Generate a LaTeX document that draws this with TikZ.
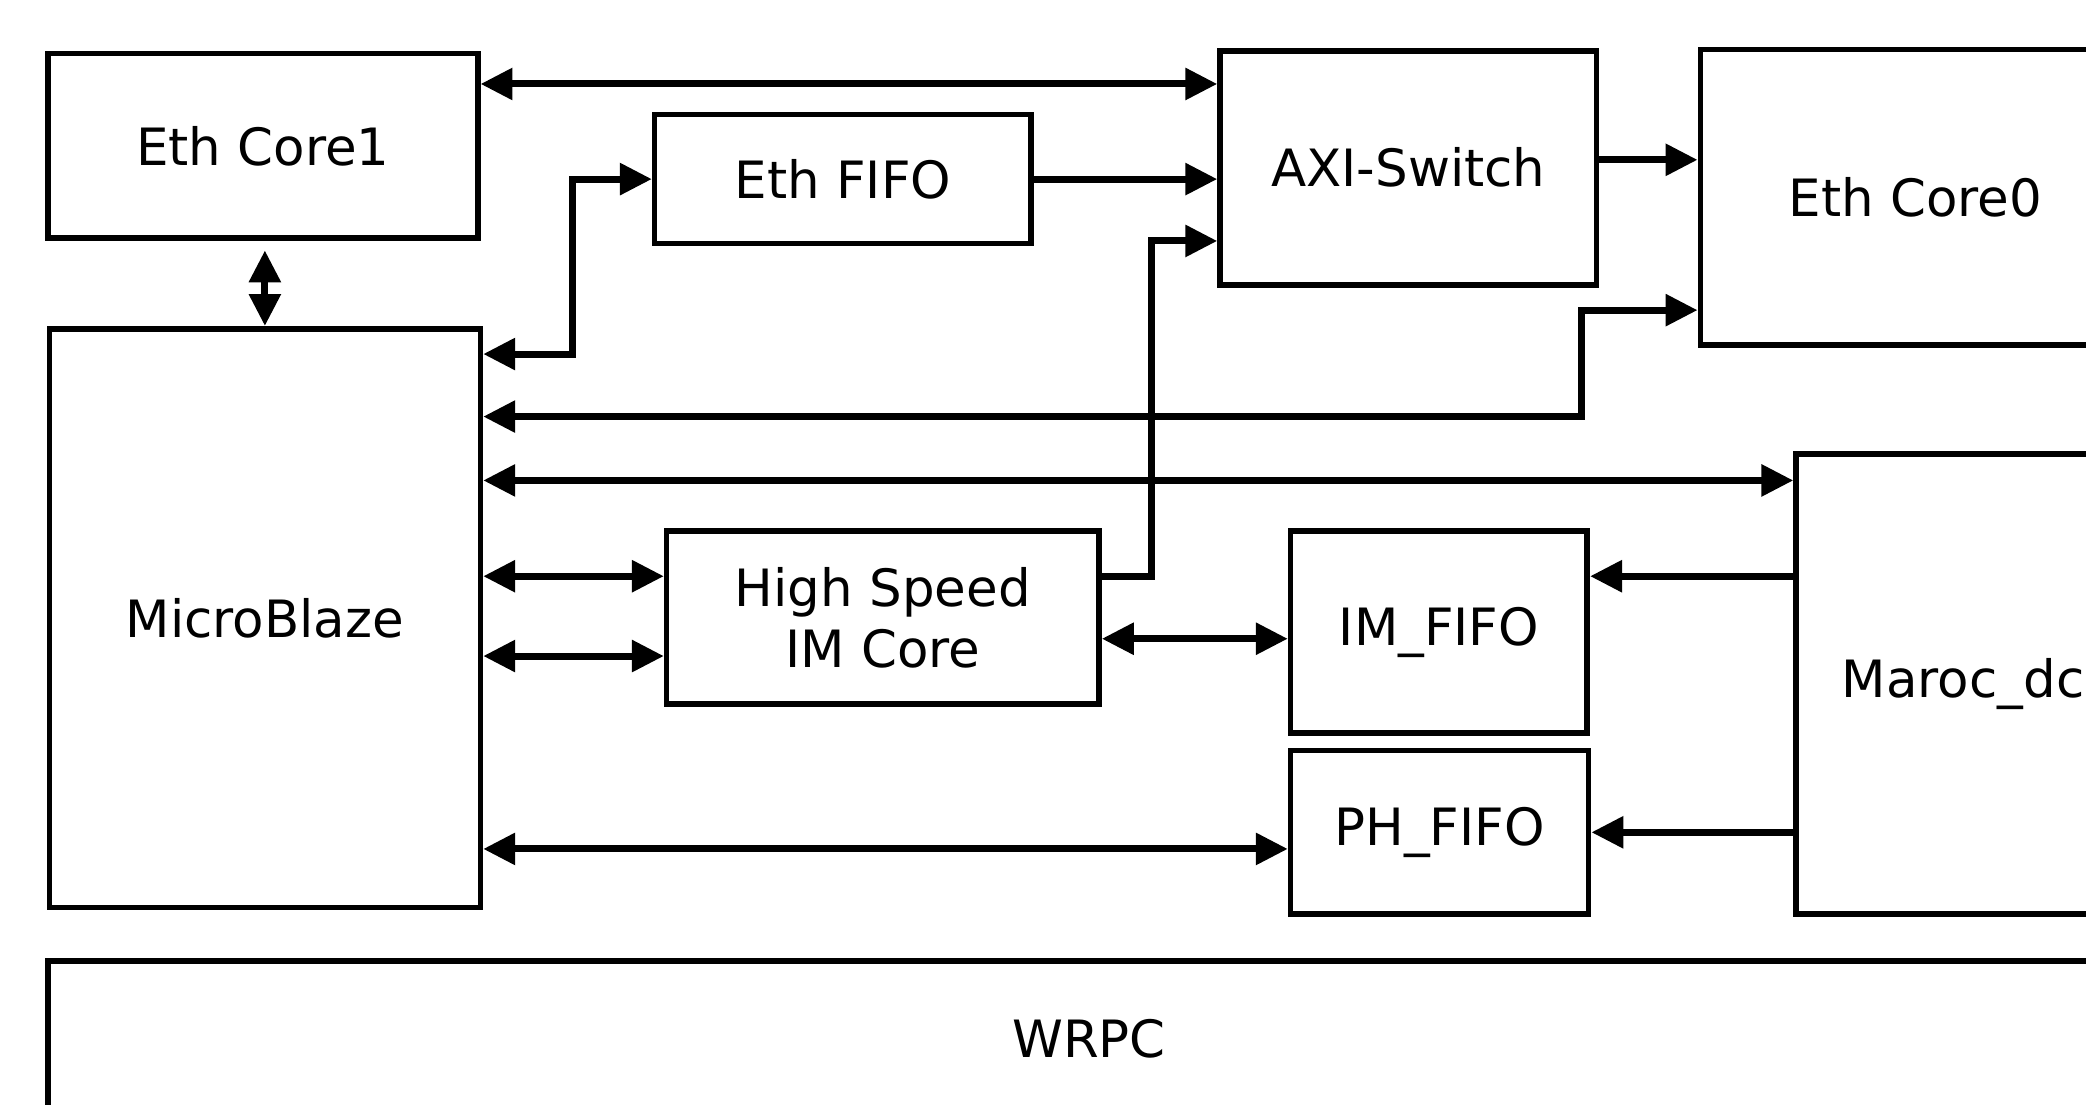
\documentclass[tikz,border=0pt]{standalone}
\usepackage{fontspec}
\setmainfont{DejaVu Sans}
\usetikzlibrary{arrows.meta, calc}
\tikzset{
    block/.style={
        rectangle,
        draw=black,
        line width=1.2pt,
        fill=white,
        inner sep=0pt,
        anchor=north west,
        align=center,
        font=\fontsize{11}{13}\selectfont,
    },
    link/.style={
        -{Triangle[length=2.4mm, width=2.3mm]},
        line width=1.5pt,
    },
    bilink/.style={
        {Triangle[length=2.4mm, width=2.3mm]}-{Triangle[length=2.4mm, width=2.3mm]},
        line width=1.5pt,
    },
}
\newcommand{\blockNode}[5]{%
    \node[block, minimum width=#3cm, minimum height=#4cm] (#1) at (#5) {#2};
}

\begin{document}
\begin{tikzpicture}

\useasboundingbox (0,0) rectangle (15.68,-8.30);
\clip (0,0) rectangle (15.68,-8.30);

% ── BLOCKS ─────────────────────────────────────────────────────────

\blockNode{ethcoreA}{Eth Core1}{3.23}{1.39}{0.34,-0.38}
\blockNode{microblaze}{MicroBlaze}{3.24}{4.35}{0.35,-2.45}
\blockNode{ethfifo}{Eth FIFO}{2.83}{0.97}{4.90,-0.84}
\blockNode{axiswitch}{AXI-Switch}{2.83}{1.76}{9.15,-0.36}
\blockNode{ethcoreB}{Eth Core0}{3.23}{2.22}{12.76,-0.35}
\blockNode{imcore}{High Speed\\IM Core}{3.25}{1.30}{4.99,-3.97}
\blockNode{imfifo}{IM\_FIFO}{2.23}{1.52}{9.68,-3.97}
\blockNode{phfifo}{PH\_FIFO}{2.24}{1.23}{9.68,-5.62}
\blockNode{maroc}{Maroc\_dc}{2.51}{3.46}{13.48,-3.39}
\blockNode{wrpc}{WRPC}{15.65}{1.18}{0.34,-7.20}

% ── ETHERNET PATH ──────────────────────────────────────────────────

\draw[bilink] ([yshift=4.65mm]ethcoreA.east) -- ([yshift=4.65mm]ethcoreA.east -| axiswitch.west);
\draw[bilink] ([yshift=-0.7mm]ethcoreA.south -| microblaze.north) -- (microblaze.north);
\draw[bilink] ([yshift=19.85mm]microblaze.east) -- ++(0.67,0) |- (ethfifo.west);
\draw[link] (ethfifo.east) -- (ethfifo.east -| axiswitch.west);
\draw[link] ([yshift=0.6mm]axiswitch.east) -- ([yshift=0.6mm]axiswitch.east -| ethcoreB.west);
\draw[bilink] ([yshift=15.15mm]microblaze.east) -| ([xshift=-8.7mm, yshift=-8.5mm]ethcoreB.west) -- ([yshift=-8.5mm]ethcoreB.west);

% ── IM CORE / FIFOS ────────────────────────────────────────────────

\draw[bilink] ([yshift=10.35mm]microblaze.east) -- ([yshift=10.35mm]microblaze.east -| maroc.west);
\draw[link] ([yshift=3.1mm]imcore.east) -- ++(0.37,0) |- ([yshift=-5.5mm]axiswitch.west);
\draw[bilink] ([yshift=3.1mm]imcore.west -| microblaze.east) -- ([yshift=3.1mm]imcore.west);
\draw[bilink] ([yshift=-2.9mm]imcore.west -| microblaze.east) -- ([yshift=-2.9mm]imcore.west);
\draw[bilink] ([yshift=-1.6mm]imcore.east) -- ([yshift=-1.6mm]imcore.east -| imfifo.west);
\draw[link] ([yshift=8.1mm]maroc.west) -- ([yshift=8.1mm]maroc.west -| imfifo.east);
\draw[link] (phfifo.east -| maroc.west) -- (phfifo.east);
\draw[bilink] ([yshift=-1.25mm]phfifo.west -| microblaze.east) -- ([yshift=-1.25mm]phfifo.west);

\end{tikzpicture}
\end{document}
